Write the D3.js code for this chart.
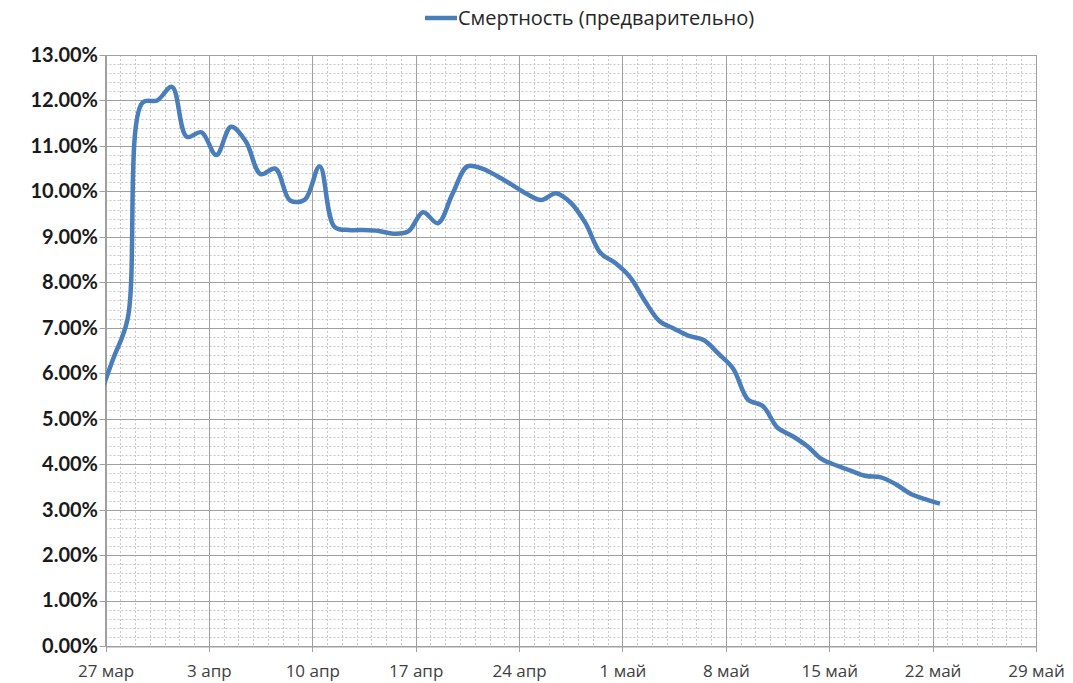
<!DOCTYPE html>
<html>
<head>
<meta charset="utf-8">
<script src="https://cdn.jsdelivr.net/npm/d3@7"></script>
<style>
  body { margin: 0; background: #fff; }
  svg { display: block; }
</style>
</head>
<body>
<div id="chart"></div>
<script>
// daily values (%), taken at midday, first one is 26 мар
let firstDay = "2020-03-26"
let values = [5.40, 6.30, 7.20, 11.95, 12.00, 12.30, 11.20, 11.30, 10.80, 11.42,
              11.10, 10.38, 10.50, 9.80, 9.82, 10.55, 9.22, 9.15, 9.15, 9.13,
              9.07, 9.12, 9.54, 9.30, 9.95, 10.55, 10.50, 10.34, 10.15, 9.95,
              9.81, 9.96, 9.75, 9.30, 8.65, 8.43, 8.12, 7.60, 7.15, 6.98,
              6.82, 6.73, 6.43, 6.10, 5.42, 5.28, 4.80, 4.62, 4.40, 4.11,
              3.97, 3.85, 3.74, 3.71, 3.56, 3.35, 3.23, 3.13]
let xTickLabels = ["27 мар", "3 апр", "10 апр", "17 апр", "24 апр", "1 май", "8 май", "15 май", "22 май", "29 май"]
let yTicks = [0, 1, 2, 3, 4, 5, 6, 7, 8, 9, 10, 11, 12, 13]
let seriesName = "Смертность (предварительно)"

let w = 1073, h = 683
let pLeft = 105.5, pRight = 1036, pTop = 55, pBottom = 646
let blue = "#4a7ebb"

let parse = d3.timeParse("%Y-%m-%d")
let start = parse("2020-03-27")
let end = parse("2020-05-29")

let data = values.map((v, i) => ({
    date: d3.timeHour.offset(d3.timeDay.offset(parse(firstDay), i), 12),
    value: v
}))

let svg = d3.select("#chart").append("svg").attr("width", w).attr("height", h)

let xScale = d3.scaleTime().domain([start, end]).range([pLeft, pRight])
let yScale = d3.scaleLinear().domain([0, 13]).range([pBottom, pTop])

let majorDays = d3.timeDay.range(start, d3.timeDay.offset(end, 1), 7)
let minorDays = d3.timeDay.range(start, d3.timeDay.offset(end, 1))
let minorY = d3.range(0, 13.01, 0.2)

// minor grid
let grid = svg.append("g")
grid.selectAll(".vminor").data(minorDays).enter().append("line")
    .attr("x1", d => Math.round(xScale(d)) + 0.5).attr("x2", d => Math.round(xScale(d)) + 0.5)
    .attr("y1", pTop).attr("y2", pBottom)
    .attr("stroke", "#c8c8c8").attr("stroke-dasharray", "2,2")
grid.selectAll(".hminor").data(minorY).enter().append("line")
    .attr("x1", pLeft).attr("x2", pRight)
    .attr("y1", d => Math.round(yScale(d)) + 0.5).attr("y2", d => Math.round(yScale(d)) + 0.5)
    .attr("stroke", "#c8c8c8").attr("stroke-dasharray", "2,2")

// major grid
grid.selectAll(".vmajor").data(majorDays).enter().append("line")
    .attr("x1", d => Math.round(xScale(d)) + 0.5).attr("x2", d => Math.round(xScale(d)) + 0.5)
    .attr("y1", pTop).attr("y2", pBottom + 6)
    .attr("stroke", "#a0a0a0")
grid.selectAll(".hmajor").data(yTicks).enter().append("line")
    .attr("x1", pLeft - 6).attr("x2", pRight)
    .attr("y1", d => Math.round(yScale(d)) + 0.5).attr("y2", d => Math.round(yScale(d)) + 0.5)
    .attr("stroke", "#a0a0a0")

// axes labels
let yAxis = d3.axisLeft(yScale).tickValues(yTicks).tickSize(0).tickPadding(7)
    .tickFormat(d => d3.format(".2%")(d / 100))
let gy = svg.append("g").attr("transform", "translate(" + (pLeft - 0.5) + ",0)").call(yAxis)
gy.select(".domain").attr("stroke", "#a0a0a0")
gy.selectAll("text").attr("font-family", "Lato, 'Liberation Sans', sans-serif")
    .attr("font-weight", "bold").attr("font-size", 20).attr("fill", "#1a1a1a")

let xAxis = d3.axisBottom(xScale).tickValues(majorDays).tickSize(0).tickPadding(18)
    .tickFormat((d, i) => xTickLabels[i])
let gx = svg.append("g").attr("transform", "translate(0," + (pBottom + 0.5) + ")").call(xAxis)
gx.select(".domain").attr("stroke", "#a0a0a0")
gx.selectAll("text").attr("font-family", "'Open Sans', 'Liberation Sans', sans-serif")
    .attr("font-size", 17).attr("fill", "#404040")

// line
svg.append("clipPath").attr("id", "plot")
    .append("rect").attr("x", pLeft).attr("y", 0).attr("width", pRight - pLeft).attr("height", h)

let line = d3.line()
    .x(d => xScale(d.date))
    .y(d => yScale(d.value))
    .curve(d3.curveCatmullRom.alpha(0.5))

svg.append("path")
    .datum(data)
    .attr("clip-path", "url(#plot)")
    .attr("d", line)
    .attr("fill", "none")
    .attr("stroke", blue)
    .attr("stroke-width", 4.5)
    .attr("stroke-linejoin", "round")

// legend
let legend = svg.append("g").attr("transform", "translate(425,18)")
legend.append("line").attr("x1", 0).attr("x2", 32).attr("y1", 0).attr("y2", 0)
    .attr("stroke", blue).attr("stroke-width", 4.5)
legend.append("text").attr("x", 33).attr("y", 0).attr("dy", "0.35em")
    .attr("font-family", "'Open Sans', 'Liberation Sans', sans-serif")
    .attr("font-size", 20).attr("fill", "#262626")
    .text(seriesName)
</script>
</body>
</html>
